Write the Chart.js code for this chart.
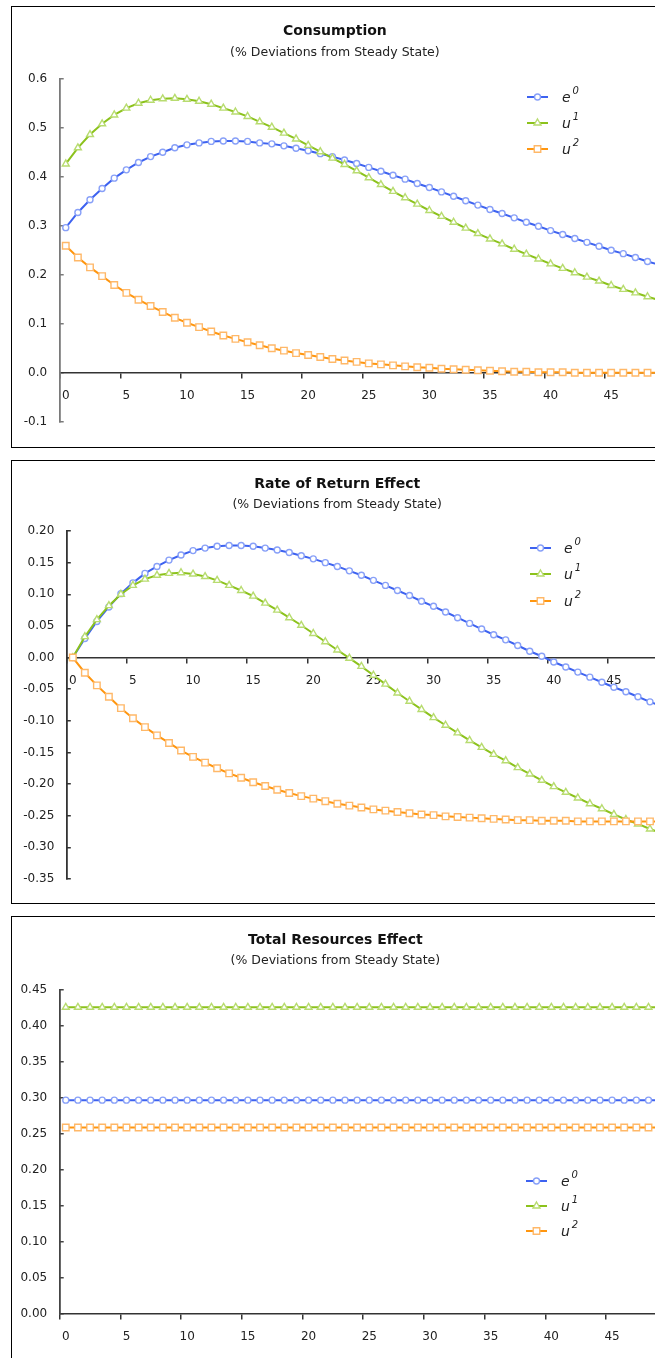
<!DOCTYPE html>
<html>
<head>
<meta charset="utf-8">
<script src="https://cdn.jsdelivr.net/npm/chart.js@4.4.1/dist/chart.umd.min.js"></script>
<style>
  html, body { margin: 0; padding: 0; background: #fff; width: 655px; height: 1358px; overflow: hidden; }
  .frame { position: absolute; box-sizing: border-box; border: 1px solid #000; pointer-events: none; z-index: 2; }
  canvas { position: absolute; z-index: 1; }
</style>
</head>
<body>
<div class="frame" style="left:11px; top:6px; width:700px; height:442px;"></div>
<div class="frame" style="left:11px; top:460px; width:700px; height:444px;"></div>
<div class="frame" style="left:11px; top:916px; width:700px; height:500px;"></div>
<canvas id="consumption" width="670" height="440" style="left:4px; top:7px;"></canvas>
<canvas id="rateOfReturn" width="670" height="442" style="left:4px; top:461px;"></canvas>
<canvas id="totalResources" width="670" height="441" style="left:4px; top:917px;"></canvas>
<script>
// Periods after the shock
const periods = [0, 1, 2, 3, 4, 5, 6, 7, 8, 9, 10, 11, 12, 13, 14, 15, 16, 17, 18, 19,
  20, 21, 22, 23, 24, 25, 26, 27, 28, 29, 30, 31, 32, 33, 34, 35, 36, 37, 38, 39,
  40, 41, 42, 43, 44, 45, 46, 47, 48, 49];

// Consumption (% deviations from steady state)
const consumptionE0 = [0.296, 0.327, 0.353, 0.376, 0.397, 0.414, 0.429, 0.441, 0.450, 0.459,
  0.465, 0.469, 0.472, 0.473, 0.473, 0.472, 0.469, 0.467, 0.463, 0.458,
  0.453, 0.447, 0.441, 0.434, 0.427, 0.419, 0.411, 0.403, 0.395, 0.386,
  0.378, 0.369, 0.360, 0.351, 0.342, 0.333, 0.325, 0.316, 0.307, 0.299,
  0.290, 0.282, 0.274, 0.266, 0.258, 0.250, 0.243, 0.235, 0.227, 0.220];
const consumptionU1 = [0.426, 0.459, 0.486, 0.508, 0.526, 0.540, 0.550, 0.556, 0.559, 0.560,
  0.558, 0.554, 0.548, 0.540, 0.532, 0.523, 0.512, 0.501, 0.489, 0.477,
  0.464, 0.451, 0.438, 0.425, 0.412, 0.398, 0.384, 0.370, 0.357, 0.344,
  0.331, 0.319, 0.307, 0.295, 0.284, 0.273, 0.263, 0.252, 0.242, 0.232,
  0.222, 0.213, 0.204, 0.195, 0.187, 0.178, 0.170, 0.163, 0.155, 0.148];
const consumptionU2 = [0.259, 0.235, 0.215, 0.197, 0.179, 0.163, 0.149, 0.136, 0.124, 0.112,
  0.102, 0.093, 0.084, 0.076, 0.069, 0.062, 0.056, 0.050, 0.045, 0.040,
  0.036, 0.032, 0.028, 0.025, 0.022, 0.019, 0.017, 0.015, 0.013, 0.011,
  0.010, 0.008, 0.007, 0.006, 0.005, 0.004, 0.003, 0.002, 0.002, 0.001,
  0.001, 0.001, 0.000, 0.000, 0.000, 0.000, 0.000, 0.000, 0.000, 0.000];

// Rate of return effect
const returnE0 = [0.000, 0.030, 0.057, 0.080, 0.101, 0.118, 0.133, 0.144, 0.154, 0.162,
  0.169, 0.173, 0.176, 0.177, 0.177, 0.176, 0.173, 0.170, 0.166, 0.161,
  0.156, 0.150, 0.144, 0.137, 0.130, 0.122, 0.114, 0.106, 0.098, 0.089,
  0.081, 0.072, 0.063, 0.054, 0.045, 0.036, 0.028, 0.019, 0.010, 0.002,
  -0.007, -0.015, -0.023, -0.031, -0.039, -0.047, -0.054, -0.062, -0.070, -0.077];
const returnU1 = [0.000, 0.033, 0.060, 0.082, 0.100, 0.114, 0.124, 0.130, 0.133, 0.134,
  0.132, 0.128, 0.122, 0.114, 0.106, 0.097, 0.086, 0.075, 0.063, 0.051,
  0.038, 0.025, 0.012, -0.001, -0.014, -0.028, -0.042, -0.056, -0.069, -0.082,
  -0.095, -0.107, -0.119, -0.131, -0.142, -0.153, -0.163, -0.174, -0.184, -0.194,
  -0.204, -0.213, -0.222, -0.231, -0.239, -0.248, -0.256, -0.263, -0.271, -0.278];
const returnU2 = [0.000, -0.024, -0.044, -0.062, -0.080, -0.096, -0.110, -0.123, -0.135, -0.147,
  -0.157, -0.166, -0.175, -0.183, -0.190, -0.197, -0.203, -0.209, -0.214, -0.219,
  -0.223, -0.227, -0.231, -0.234, -0.237, -0.240, -0.242, -0.244, -0.246, -0.248,
  -0.249, -0.251, -0.252, -0.253, -0.254, -0.255, -0.256, -0.257, -0.257, -0.258,
  -0.258, -0.258, -0.259, -0.259, -0.259, -0.259, -0.259, -0.259, -0.259, -0.259];

// Total resources effect
const resourcesE0 = [0.297, 0.297, 0.297, 0.297, 0.297, 0.297, 0.297, 0.297, 0.297, 0.297,
  0.297, 0.297, 0.297, 0.297, 0.297, 0.297, 0.297, 0.297, 0.297, 0.297,
  0.297, 0.297, 0.297, 0.297, 0.297, 0.297, 0.297, 0.297, 0.297, 0.297,
  0.297, 0.297, 0.297, 0.297, 0.297, 0.297, 0.297, 0.297, 0.297, 0.297,
  0.297, 0.297, 0.297, 0.297, 0.297, 0.297, 0.297, 0.297, 0.297, 0.297];
const resourcesU1 = [0.426, 0.426, 0.426, 0.426, 0.426, 0.426, 0.426, 0.426, 0.426, 0.426,
  0.426, 0.426, 0.426, 0.426, 0.426, 0.426, 0.426, 0.426, 0.426, 0.426,
  0.426, 0.426, 0.426, 0.426, 0.426, 0.426, 0.426, 0.426, 0.426, 0.426,
  0.426, 0.426, 0.426, 0.426, 0.426, 0.426, 0.426, 0.426, 0.426, 0.426,
  0.426, 0.426, 0.426, 0.426, 0.426, 0.426, 0.426, 0.426, 0.426, 0.426];
const resourcesU2 = [0.259, 0.259, 0.259, 0.259, 0.259, 0.259, 0.259, 0.259, 0.259, 0.259,
  0.259, 0.259, 0.259, 0.259, 0.259, 0.259, 0.259, 0.259, 0.259, 0.259,
  0.259, 0.259, 0.259, 0.259, 0.259, 0.259, 0.259, 0.259, 0.259, 0.259,
  0.259, 0.259, 0.259, 0.259, 0.259, 0.259, 0.259, 0.259, 0.259, 0.259,
  0.259, 0.259, 0.259, 0.259, 0.259, 0.259, 0.259, 0.259, 0.259, 0.259];

// Series naming: base letter plus superscript index
const seriesNames = ['e', 'u', 'u'];
const seriesSups = ['0', '1', '2'];

const FONT = '"DejaVu Sans", "Verdana", sans-serif';
Chart.defaults.font.family = FONT;

const lineColors = ['#3d62f0', '#8cc21c', '#ff960f'];
const markerColors = ['#88a0f8', '#b8dc70', '#ffb868'];
const markerStyles = ['circle', 'triangle', 'rect'];
const markerRadii = [3, 4, 4.6];

function makeDatasets(seriesList) {
  return seriesList.map((values, i) => ({
    label: seriesNames[i] + seriesSups[i],
    data: values,
    borderColor: lineColors[i],
    backgroundColor: lineColors[i],
    borderWidth: 2,
    pointStyle: markerStyles[i],
    pointRadius: markerRadii[i],
    pointBorderWidth: 1.4,
    pointBorderColor: markerColors[i],
    pointBackgroundColor: '#ffffff',
    tension: 0,
    order: 3 - i
  }));
}

// Legend with sample line, marker and superscripted name
const superLegend = {
  id: 'superLegend',
  afterDatasetsDraw(chart, args, opts) {
    const ctx = chart.ctx;
    chart.data.datasets.forEach((ds, i) => {
      const y = opts.rows[i];
      ctx.save();
      ctx.strokeStyle = ds.borderColor;
      ctx.lineWidth = 2;
      ctx.beginPath();
      ctx.moveTo(opts.x0, y);
      ctx.lineTo(opts.x1, y);
      ctx.stroke();
      ctx.fillStyle = '#ffffff';
      ctx.strokeStyle = ds.pointBorderColor;
      ctx.lineWidth = ds.pointBorderWidth;
      Chart.helpers.drawPoint(ctx, {
        pointStyle: ds.pointStyle, radius: ds.pointRadius,
        borderWidth: ds.pointBorderWidth, rotation: 0
      }, (opts.x0 + opts.x1) / 2, y);
      ctx.fillStyle = '#222';
      ctx.textBaseline = 'middle';
      ctx.textAlign = 'left';
      ctx.font = 'italic 14px ' + FONT;
      ctx.fillText(seriesNames[i], opts.tx, y + 1);
      const w = ctx.measureText(seriesNames[i]).width;
      ctx.font = 'italic 10px ' + FONT;
      ctx.fillText(seriesSups[i], opts.tx + w + 2, y - 6);
      ctx.restore();
    });
  }
};

function fmt(decimals) {
  return v => (Math.abs(v) < 1e-9 ? 0 : v).toFixed(decimals);
}

function buildChart(id, cfg) {
  return new Chart(document.getElementById(id), {
    type: 'line',
    data: { labels: periods, datasets: makeDatasets(cfg.series) },
    options: {
      responsive: false,
      animation: false,
      devicePixelRatio: 1,
      layout: { padding: cfg.padding },
      plugins: {
        legend: { display: false },
        tooltip: { enabled: false },
        title: {
          display: true, text: cfg.title, color: '#111',
          font: { size: 14, weight: 'bold', lineHeight: 1.2 },
          padding: { top: cfg.titleTop, bottom: 0 }
        },
        subtitle: {
          display: true, text: '(% Deviations from Steady State)', color: '#222',
          font: { size: 12.5, lineHeight: 1.2 },
          padding: { top: cfg.subTop, bottom: cfg.subBottom }
        },
        superLegend: cfg.legend
      },
      scales: {
        x: {
          type: 'category',
          offset: true,
          position: { y: 0 },
          afterFit: s => { s.height = 0; },
          border: { color: '#333', width: 1.5 },
          grid: {
            offset: true, drawOnChartArea: false, tickLength: 5, lineWidth: 1.5,
            color: c => (c.index % 5 === 0 ? '#333' : 'rgba(0,0,0,0)')
          },
          ticks: {
            autoSkip: false, maxRotation: 0, padding: 11, color: '#222',
            font: { size: 12 },
            callback: (v, i) => (i % 5 === 0 ? String(periods[i]) : '')
          }
        },
        y: {
          min: cfg.yMin, max: cfg.yMax,
          afterFit: s => { s.width = cfg.axisLeft; },
          border: { color: cfg.yAxisColor, width: 1.8 },
          grid: { drawOnChartArea: false, tickLength: -4, color: cfg.yAxisColor, lineWidth: 1.5 },
          ticks: {
            stepSize: cfg.step, padding: 16.5, color: '#222', font: { size: 12 },
            callback: fmt(cfg.decimals)
          }
        }
      }
    },
    plugins: [superLegend]
  });
}

buildChart('consumption', {
  title: 'Consumption',
  series: [consumptionE0, consumptionU1, consumptionU2],
  yMin: -0.1, yMax: 0.6, step: 0.1, decimals: 1,
  axisLeft: 55.7, yAxisColor: '#7a7a7a',
  padding: { left: 0, right: 8.3, top: 0, bottom: 25.3 },
  titleTop: 16, subTop: 5, subBottom: 18.9,
  legend: { rows: [90, 116, 142], x0: 523, x1: 544, tx: 558 }
});

buildChart('rateOfReturn', {
  title: 'Rate of Return Effect',
  series: [returnE0, returnU1, returnU2],
  yMin: -0.35, yMax: 0.2, step: 0.05, decimals: 2,
  axisLeft: 62.8, yAxisColor: '#333',
  padding: { left: 0, right: 3.7, top: 0, bottom: 24 },
  titleTop: 15, subTop: 4, subBottom: 19.2,
  legend: { rows: [87, 113, 140], x0: 526, x1: 547, tx: 560 }
});

buildChart('totalResources', {
  title: 'Total Resources Effect',
  series: [resourcesE0, resourcesU1, resourcesU2],
  yMin: 0, yMax: 0.45, step: 0.05, decimals: 2,
  axisLeft: 55.7, yAxisColor: '#444',
  padding: { left: 0, right: 7.3, top: 0, bottom: 44 },
  titleTop: 14.6, subTop: 5.1, subBottom: 21.5,
  legend: { rows: [264, 289, 314], x0: 522, x1: 543, tx: 557 }
});
</script>
</body>
</html>
